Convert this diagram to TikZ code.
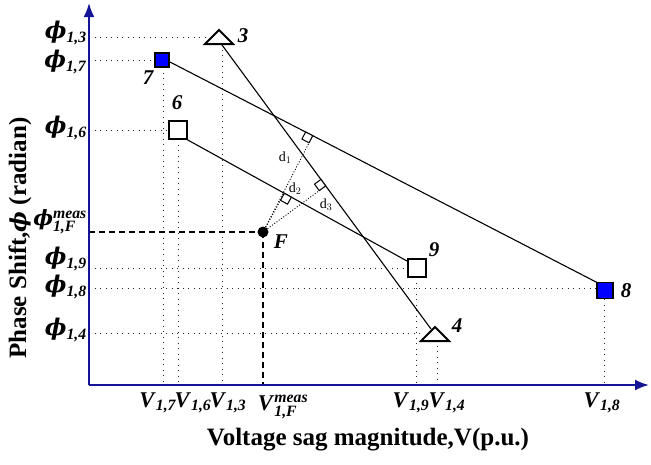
\documentclass[tikz,border=0pt]{standalone}
\usepackage{amsmath,bm}
\usepackage{fontspec}
\setmainfont{Liberation Serif}
\newfontfamily\phf{DejaVu Serif}
\usetikzlibrary{calc,arrows.meta}
\definecolor{axisblue}{RGB}{20,20,150}
\definecolor{ptblue}{RGB}{0,0,255}
\newcommand{\phig}{{\phf\bfseries\itshape\fontsize{23}{26}\selectfont ϕ}}
\newcommand{\phl}[1]{\phig$_{\textbf{\textit{#1}}}$}
\newcommand{\vl}[1]{\textbf{\textit{V}}$_{\textbf{\textit{#1}}}$}
\begin{document}
\begin{tikzpicture}[x=1pt,y=-1pt,
  axis/.style={draw=axisblue,line width=2pt,-{Latex[length=14pt,width=11pt]}},
  guide/.style={line width=0.9pt,dash pattern=on 1pt off 4.5pt,black!85},
  measline/.style={line width=1.1pt,dash pattern=on 6pt off 4pt},
  dline/.style={line width=0.9pt,dash pattern=on 1pt off 1.8pt},
  link/.style={line width=1.1pt},
  wsq/.style={draw,line width=2pt,fill=white,rectangle,minimum size=#1,inner sep=0pt},
  bsq/.style={draw,line width=1.2pt,fill=ptblue,rectangle,minimum size=#1,inner sep=0pt},
  tri/.style={draw,line width=2pt,fill=white,line join=miter},
  rmark/.style={draw,line width=1pt,fill=white},
  tick/.style={font=\fontsize{22.5}{26}\selectfont,inner sep=0pt},
  num/.style={font=\fontsize{21}{24}\selectfont\bfseries\itshape,inner sep=0pt},
  dlab/.style={font=\fontsize{14}{16}\selectfont,inner sep=0pt},
  title/.style={font=\fontsize{25}{28}\selectfont\bfseries,inner sep=0pt}]
\useasboundingbox (0,0) rectangle (651,464);
% axes
\coordinate (O) at (89,385);
\coordinate (ytop) at (89,3);
\coordinate (xend) at (649,385);
% points
\coordinate (c3) at (219,37);
\coordinate (c4) at (435,334);
\coordinate (F) at (263,232);
% line end points
\coordinate (l7) at (170,62);
\coordinate (l8) at (598,283);
\coordinate (l6) at (186,139);
\coordinate (l9) at (407,261);
\coordinate (l3) at (222,45);
\coordinate (l4) at (431,329);
% guide ends
\coordinate (g3a) at (89,37);   \coordinate (g3b) at (205,37);
\coordinate (g7a) at (89,60);   \coordinate (g7b) at (155,60);
\coordinate (g6a) at (89,130);  \coordinate (g6b) at (168,130);
\coordinate (g9a) at (89,268);  \coordinate (g9b) at (407,268);
\coordinate (g8a) at (89,288);  \coordinate (g8b) at (597,288);
\coordinate (g4a) at (89,333);  \coordinate (g4b) at (421,333);
\coordinate (v7a) at (163,67);  \coordinate (v7b) at (163,385);
\coordinate (v6a) at (178,139); \coordinate (v6b) at (178,385);
\coordinate (v3a) at (222,44);  \coordinate (v3b) at (222,385);
\coordinate (v9a) at (416,277); \coordinate (v9b) at (416,385);
\coordinate (v4a) at (437,340); \coordinate (v4b) at (437,385);
\coordinate (v8a) at (604,299); \coordinate (v8b) at (604,385);
\coordinate (mx) at (89,232);
\coordinate (my) at (263,385);
% guides
\foreach \a/\b in {g3a/g3b,g7a/g7b,g6a/g6b,g9a/g9b,g8a/g8b,g4a/g4b,v7a/v7b,v6a/v6b,v3a/v3b,v9a/v9b,v4a/v4b,v8a/v8b}
  \draw[guide] (\a) -- (\b);
\draw[measline] (mx) -- (F);
\draw[measline] (F) -- (my);
% lines
\draw[link] (l7) -- (l8);
\draw[link] (l6) -- (l9);
\draw[link] (l3) -- (l4);
% feet of perpendiculars
\coordinate (f1) at ($(l7)!(F)!(l8)$);
\coordinate (f2) at ($(l6)!(F)!(l9)$);
\coordinate (f3) at ($(l3)!(F)!(l4)$);
\draw[dline] (F) -- (f1);
\draw[dline] (F) -- (f2);
\draw[dline] (F) -- (f3);
\coordinate (a1) at ($(f1)!8pt!(l7)$); \coordinate (b1) at ($(f1)!8pt!(F)$);
\coordinate (a2) at ($(f2)!8pt!(l9)$); \coordinate (b2) at ($(f2)!8pt!(F)$);
\coordinate (a3) at ($(f3)!8pt!(l3)$); \coordinate (b3) at ($(f3)!8pt!(F)$);
\draw[rmark] (f1) -- (a1) -- ($(a1)+(b1)-(f1)$) -- (b1) -- cycle;
\draw[rmark] (f2) -- (a2) -- ($(a2)+(b2)-(f2)$) -- (b2) -- cycle;
\draw[rmark] (f3) -- (a3) -- ($(a3)+(b3)-(f3)$) -- (b3) -- cycle;
\node[dlab] (d1) at (285,158) {d$_1$};
\node[dlab] (d2) at (295,189) {d$_2$};
\node[dlab] (d3) at (326,205) {d$_3$};
% markers
\node[bsq=14pt] (n7) at (162,60) {};
\node[wsq=18pt] (n6) at (177.5,130) {};
\node[wsq=18pt] (n9) at (416.5,267.5) {};
\node[bsq=16pt] (n8) at (605,290.5) {};
\draw[tri] ($(c3)+(0,-7)$) -- ($(c3)+(14,7)$) -- ($(c3)+(-14,7)$) -- cycle;
\draw[tri] ($(c4)+(0,-7)$) -- ($(c4)+(14,7)$) -- ($(c4)+(-14,7)$) -- cycle;
\fill (F) circle (5.5pt);
% numbers
\node[num] (t3) at (243,36) {3};
\node[num] (t7) at (148,78) {7};
\node[num] (t6) at (177,103) {6};
\node[num] (t9) at (434,250) {9};
\node[num] (t8) at (626,291) {8};
\node[num] (t4) at (457,326) {4};
\node[num] (tF) at (281,242) {F};
% axes
\draw[axis] (O) -- (ytop);
\draw[axis] (O) -- (xend);
% y tick labels
\node[tick,anchor=east] (p3) at (87,33) {\phl{1,3}};
\node[tick,anchor=east] (p7) at (87,62) {\phl{1,7}};
\node[tick,anchor=east] (p6) at (87,128) {\phl{1,6}};
\node[tick,anchor=east] (pF) at (87,222) {{\phf\bfseries\itshape\fontsize{21}{24}\selectfont ϕ}$^{\textbf{\textit{meas}}}_{\textbf{\textit{1,F}}}$};
\node[tick,anchor=east] (p9) at (87,259) {\phl{1,9}};
\node[tick,anchor=east] (p8) at (87,287) {\phl{1,8}};
\node[tick,anchor=east] (p4) at (87,330) {\phl{1,4}};
% x tick labels
\node[tick] (x7) at (158,403) {\vl{1,7}};
\node[tick] (x6) at (193,403) {\vl{1,6}};
\node[tick] (x3) at (228,403) {\vl{1,3}};
\node[tick] (xF) at (283,407) {\textbf{\textit{V}}$^{\textbf{\textit{meas}}}_{\textbf{\textit{1,F}}}$};
\node[tick] (x9) at (411,403) {\vl{1,9}};
\node[tick] (x4) at (447,403) {\vl{1,4}};
\node[tick] (x8) at (602,403) {\vl{1,8}};
% axis titles
\node[title] (xt) at (368,440) {Voltage sag magnitude,V(p.u.)};
\node[title,rotate=90] (yt) at (20,238) {Phase Shift,{\phf\bfseries\itshape\fontsize{22}{24}\selectfont ϕ} (radian)};
\end{tikzpicture}
\end{document}
